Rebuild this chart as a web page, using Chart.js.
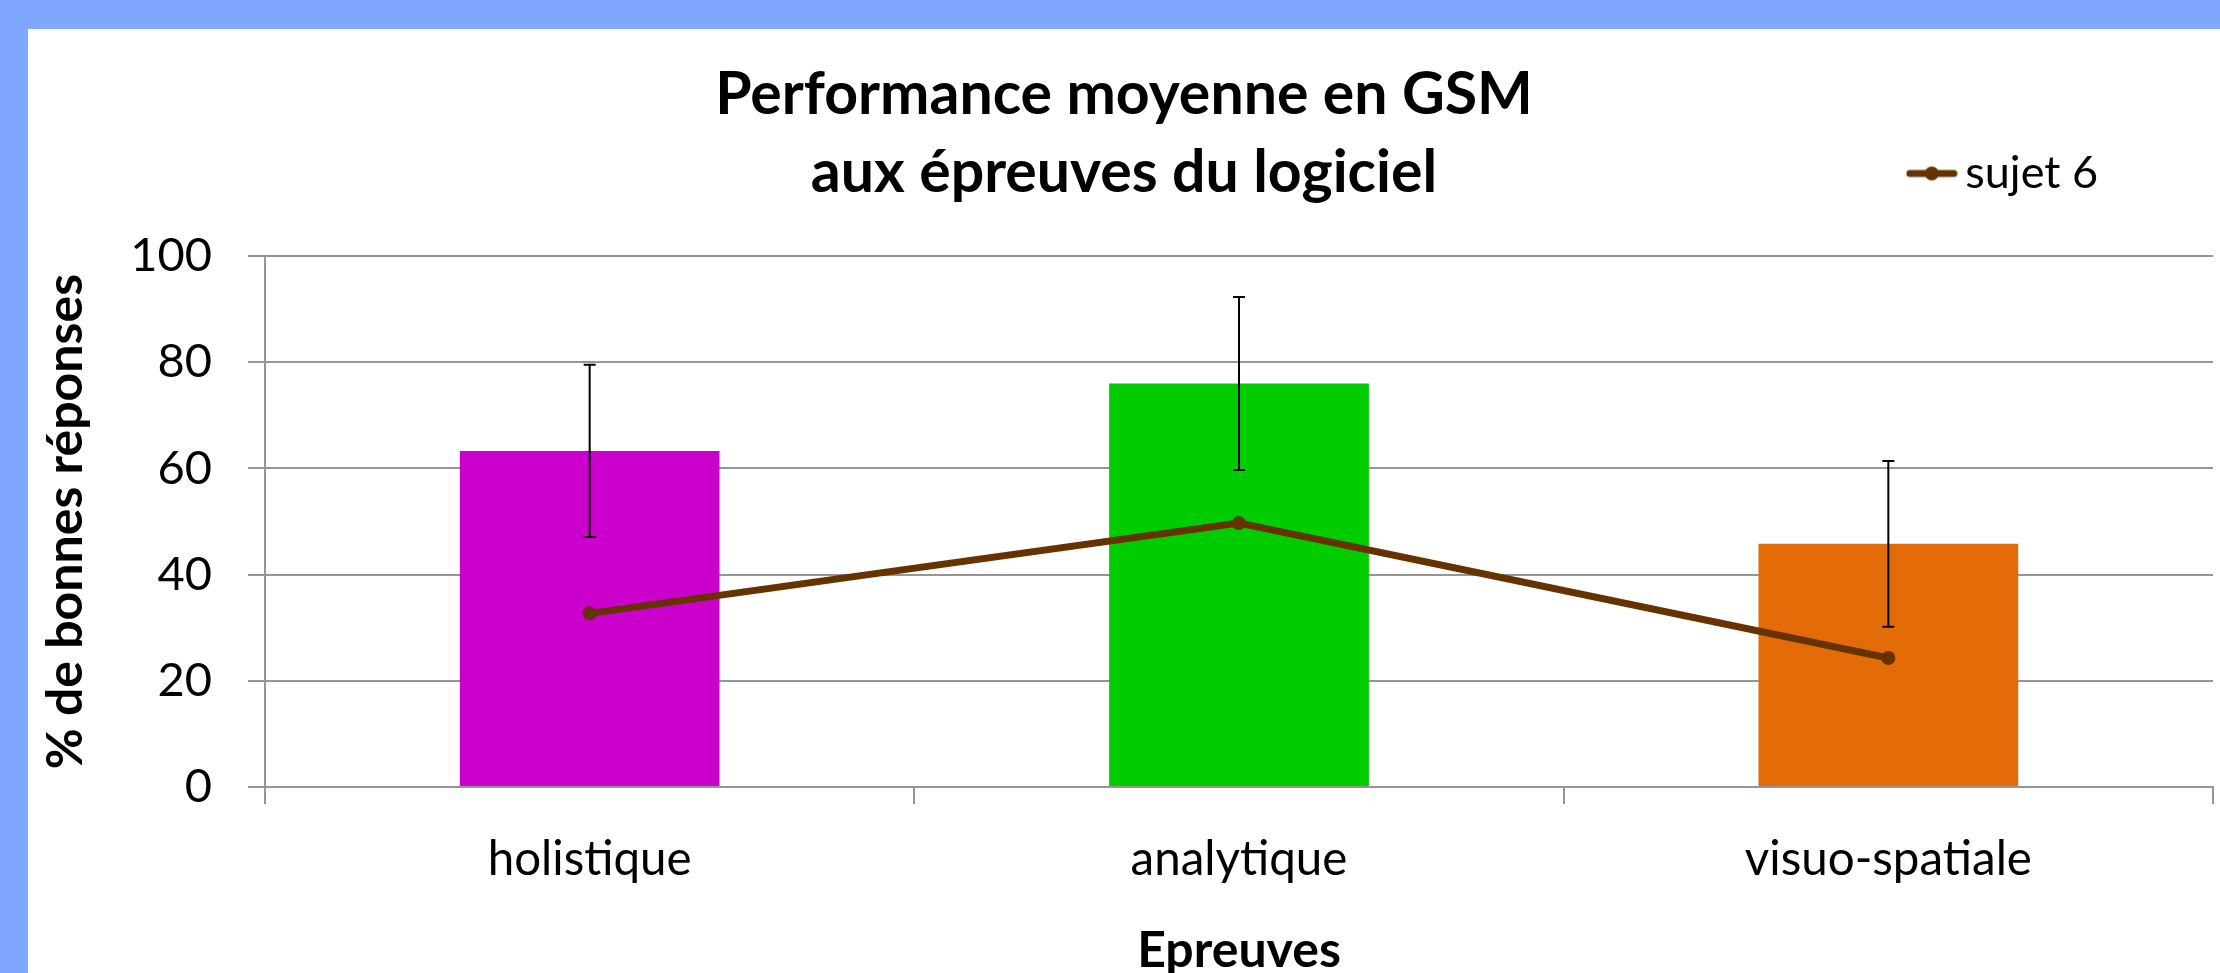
<!DOCTYPE html>
<html>
<head>
<meta charset="utf-8">
<script src="https://cdn.jsdelivr.net/npm/chart.js@4"></script>
<style>
    html, body {
        margin: 0;
        padding: 0;
        overflow: hidden;
        background: #7FA7FF;
        width: 2220px;
        height: 973px;
    }
    #panel {
        position: absolute;
        left: 28px;
        top: 29px;
        width: 2192px;
        height: 960px;
        background: #ffffff;
    }
</style>
</head>
<body>
<div id="panel">
    <canvas id="chart" width="2192" height="960"></canvas>
</div>
<script>
const categories = ["holistique", "analytique", "visuo-spatiale"];
const meanScores = [63.3, 76.0, 45.8];
const errorMargins = [16.2, 16.3, 15.6];
const sujet6Scores = [32.7, 49.7, 24.3];
const barColors = ["#CC00CC", "#00CC00", "#E36C09"];
const yMin = 0;
const yMax = 100;
const yStep = 20;

const fontFamily = "Lato, 'Open Sans', sans-serif";
const gridColor = "#969696";
const lineColor = "#663300";

// little line + dot marker for the legend
const makeLegendMarker = () => {
    const c = document.createElement("canvas");
    c.width = 52;
    c.height = 18;
    const g = c.getContext("2d");
    g.strokeStyle = lineColor;
    g.lineWidth = 7;
    g.lineCap = "round";
    g.beginPath();
    g.moveTo(4, 9);
    g.lineTo(48, 9);
    g.stroke();
    g.fillStyle = lineColor;
    g.beginPath();
    g.arc(26, 9, 7, 0, Math.PI * 2);
    g.fill();
    return c;
};

const errorBars = {
    id: "errorBars",
    afterDatasetsDraw(chart) {
        const meta = chart.getDatasetMeta(0);
        const y = chart.scales.y;
        const ctx = chart.ctx;
        ctx.save();
        ctx.strokeStyle = "#000000";
        ctx.lineWidth = 2;
        meta.data.forEach((bar, i) => {
            const top = y.getPixelForValue(meanScores[i] + errorMargins[i]);
            const bottom = y.getPixelForValue(meanScores[i] - errorMargins[i]);
            ctx.beginPath();
            ctx.moveTo(bar.x, top);
            ctx.lineTo(bar.x, bottom);
            ctx.moveTo(bar.x - 6, top);
            ctx.lineTo(bar.x + 6, top);
            ctx.moveTo(bar.x - 6, bottom);
            ctx.lineTo(bar.x + 6, bottom);
            ctx.stroke();
        });
        ctx.restore();
    }
};

window.addEventListener("load", () => {
    const ctx = document.querySelector("#chart");

    new Chart(ctx, {
        type: "bar",
        data: {
            labels: categories,
            datasets: [{
                type: "bar",
                label: "moyenne",
                data: meanScores,
                backgroundColor: barColors,
                barPercentage: 0.4,
                categoryPercentage: 1,
                order: 2
            }, {
                type: "line",
                label: "sujet 6",
                data: sujet6Scores,
                borderColor: lineColor,
                backgroundColor: lineColor,
                borderWidth: 7,
                pointRadius: 7,
                pointBackgroundColor: lineColor,
                pointBorderWidth: 0,
                order: 1
            }]
        },
        options: {
            responsive: false,
            animation: false,
            layout: {
                padding: { top: 0, left: 0, right: 0, bottom: 0 }
            },
            scales: {
                x: {
                    afterFit: (scale) => { scale.height = 202; },
                    grid: {
                        display: true,
                        drawOnChartArea: false,
                        drawTicks: true,
                        tickLength: 17,
                        color: gridColor,
                        lineWidth: 2
                    },
                    border: {
                        display: true,
                        color: gridColor,
                        width: 2
                    },
                    ticks: {
                        color: "#000000",
                        padding: 27,
                        font: { family: fontFamily, size: 47.5 }
                    },
                    title: {
                        display: true,
                        text: "Epreuves",
                        color: "#000000",
                        padding: { top: 0, bottom: 8 },
                        font: { family: fontFamily, size: 50, weight: "bold" }
                    }
                },
                y: {
                    min: yMin,
                    max: yMax,
                    afterFit: (scale) => { scale.width = 237; },
                    grid: {
                        color: gridColor,
                        lineWidth: 2,
                        tickLength: 17
                    },
                    border: {
                        display: true,
                        color: gridColor,
                        width: 2
                    },
                    ticks: {
                        stepSize: yStep,
                        color: "#000000",
                        padding: 36,
                        font: { family: fontFamily, size: 47 }
                    },
                    title: {
                        display: true,
                        text: "% de bonnes réponses",
                        color: "#000000",
                        padding: { top: 8, bottom: 0 },
                        font: { family: fontFamily, size: 50, weight: "bold" }
                    }
                }
            },
            plugins: {
                title: {
                    display: true,
                    text: ["Performance moyenne en GSM", "aux épreuves du logiciel"],
                    color: "#000000",
                    weight: 500,
                    padding: { top: -150, bottom: 44 },
                    font: { family: fontFamily, size: 59, weight: "bold", lineHeight: 78 / 59 }
                },
                legend: {
                    display: true,
                    position: "top",
                    align: "end",
                    labels: {
                        usePointStyle: true,
                        pointStyle: makeLegendMarker(),
                        pointStyleWidth: 22,
                        padding: 122,
                        color: "#000000",
                        font: { family: fontFamily, size: 45 },
                        filter: (item) => item.datasetIndex === 1
                    }
                },
                tooltip: {
                    enabled: false
                }
            }
        },
        plugins: [errorBars]
    });
});
</script>
</body>
</html>
